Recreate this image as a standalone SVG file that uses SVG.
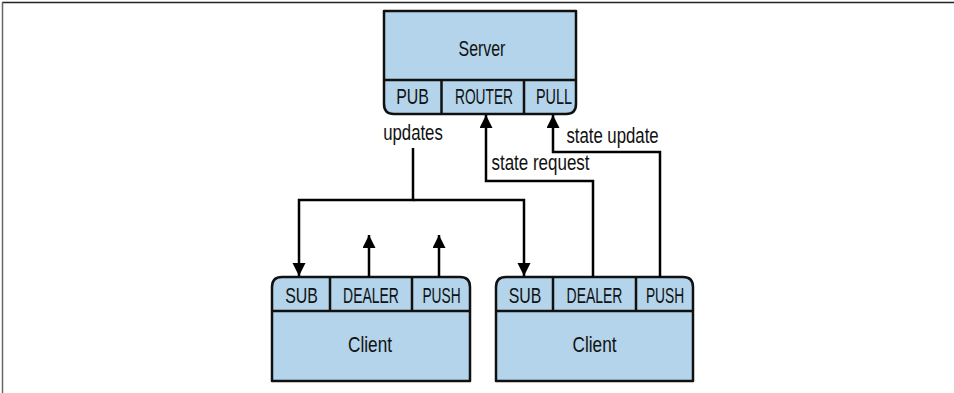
<svg xmlns="http://www.w3.org/2000/svg" width="954" height="393" viewBox="0 0 954 393">
<defs>
<marker id="ah" markerUnits="userSpaceOnUse" markerWidth="14" markerHeight="14" refX="13" refY="6.5" orient="auto">
<path d="M0,0 L13,6.5 L0,13 Z" fill="#000"/>
</marker>
<style>
.box{fill:#b3d4ea;stroke:#111;stroke-width:2.5;stroke-linejoin:round}
.div{stroke:#111;stroke-width:2.5;fill:none}
.t{font-family:"Liberation Sans",Arial,sans-serif;font-size:21.5px;fill:#111;text-anchor:middle}
.c{fill:none;stroke:#000;stroke-width:2.5;marker-end:url(#ah)}
</style>
</defs>
<rect width="954" height="393" fill="#fff"/>
<line x1="2" y1="2.5" x2="954" y2="2.5" stroke="#222" stroke-width="1.5"/>
<line x1="2.5" y1="2" x2="2.5" y2="393" stroke="#666" stroke-width="1.5"/>

<g id="server">
<path class="box" d="M384,11 H576 V104 Q576,114 566,114 H394 Q384,114 384,104 Z"/>
<path class="div" d="M384,80 H576 M441.5,80 V114 M524,80 V114"/>
<text class="t" transform="translate(482,56) scale(0.74,1)">Server</text>
<text class="t" transform="translate(412.5,104) scale(0.74,1)">PUB</text>
<text class="t" transform="translate(484,104) scale(0.64,1)">ROUTER</text>
<text class="t" transform="translate(554,104) scale(0.67,1)">PULL</text>
</g>

<g id="client1">
<path class="box" d="M272,381 V287 Q272,277 282,277 H460 Q470,277 470,287 V381 Z"/>
<path class="div" d="M272,311 H470 M330,277 V311 M412,277 V311"/>
<text class="t" transform="translate(301.5,303) scale(0.74,1)">SUB</text>
<text class="t" transform="translate(371,303) scale(0.65,1)">DEALER</text>
<text class="t" transform="translate(441.5,303) scale(0.64,1)">PUSH</text>
<text class="t" transform="translate(370,352) scale(0.8,1)">Client</text>
</g>

<g id="client2">
<path class="box" d="M496,381 V287 Q496,277 506,277 H683 Q693,277 693,287 V381 Z"/>
<path class="div" d="M496,311 H693 M553,277 V311 M636,277 V311"/>
<text class="t" transform="translate(525,303) scale(0.74,1)">SUB</text>
<text class="t" transform="translate(594.5,303) scale(0.65,1)">DEALER</text>
<text class="t" transform="translate(665,303) scale(0.64,1)">PUSH</text>
<text class="t" transform="translate(594.5,352) scale(0.8,1)">Client</text>
</g>

<g id="connectors">
<path class="c" d="M413,148 V200 H299 V276"/>
<path class="c" d="M413,200 H524 V276"/>
<path class="c" d="M593,277 V181 H486 V115"/>
<path class="c" d="M660,277 V152 H553 V115"/>
<path class="c" d="M369,277 V235"/>
<path class="c" d="M439,277 V235"/>
<text class="t" transform="translate(413,140) scale(0.78,1)">updates</text>
<text class="t" transform="translate(540.5,170) scale(0.79,1)">state request</text>
<text class="t" transform="translate(612.5,143) scale(0.78,1)">state update</text>
</g>
</svg>
